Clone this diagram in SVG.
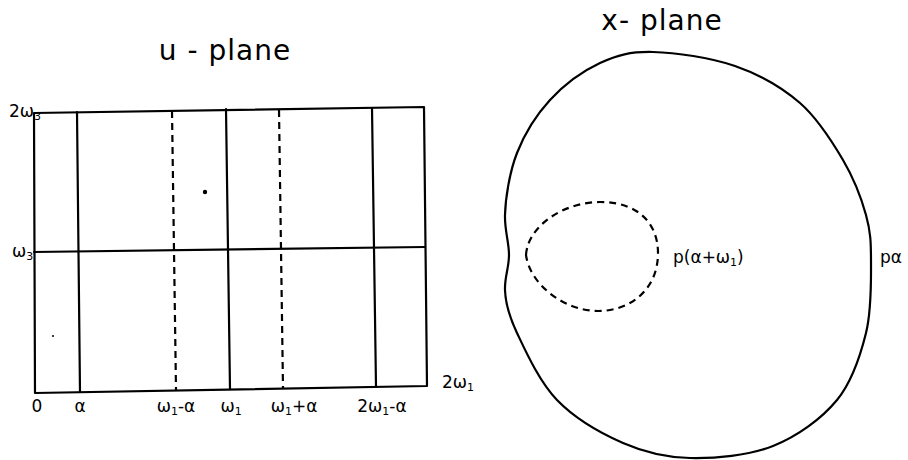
<svg xmlns="http://www.w3.org/2000/svg" width="908" height="460" viewBox="0 0 908 460">
<style>
.ln{fill:none;stroke:#000;stroke-width:2.2;stroke-linecap:round;stroke-linejoin:round}
.ds{fill:none;stroke:#000;stroke-width:2.2;stroke-dasharray:7 5}
.t{font-family:"DejaVu Sans","Liberation Sans",sans-serif;fill:#000}
.ttl{font-size:28px;letter-spacing:1px}
.lb{font-size:17px}
.sub{font-size:11px}
</style>
<rect width="908" height="460" fill="#fff"/>
<g id="u-plane">
<text class="t ttl" x="225" y="60" text-anchor="middle">u - plane</text>
<path class="ln" d="M34,113 L424,107 L427,386 L35,393 Z"/>
<path class="ln" d="M34,252 L425,247"/>
<path class="ln" d="M77,112 L80,392"/>
<path class="ln" d="M226,109 L230,389"/>
<path class="ln" d="M372,108 L376,387"/>
<path class="ds" d="M172,111 L176,390"/>
<path class="ds" d="M279,110 L283,388"/>
<circle cx="205" cy="192" r="2.2" fill="#000"/>
<circle cx="53" cy="336" r="1" fill="#000"/>
<text class="t lb" x="9" y="117" font-size="13">2ω<tspan class="sub" dy="3">3</tspan></text>
<text class="t lb" x="12" y="257">ω<tspan class="sub" dy="3">3</tspan></text>
<text class="t lb" x="37" y="412" text-anchor="middle">0</text>
<text class="t lb" x="80" y="412" text-anchor="middle">α</text>
<text class="t lb" x="176" y="412" text-anchor="middle">ω<tspan class="sub" dy="3">1</tspan><tspan dy="-3">-α</tspan></text>
<text class="t lb" x="231" y="412" text-anchor="middle">ω<tspan class="sub" dy="3">1</tspan></text>
<text class="t lb" x="294" y="412" text-anchor="middle">ω<tspan class="sub" dy="3">1</tspan><tspan dy="-3">+α</tspan></text>
<text class="t lb" x="382" y="412" text-anchor="middle">2ω<tspan class="sub" dy="3">1</tspan><tspan dy="-3">-α</tspan></text>
<text class="t lb" x="442" y="388">2ω<tspan class="sub" dy="3">1</tspan></text>
</g>
<g id="x-plane">
<text class="t ttl" x="662" y="30" text-anchor="middle">x- plane</text>
<path class="ln" d="M653,52 C675.5,52.5 710.5,57.5 735,66 C759.5,74.5 782,87.3 800,103 C818,118.7 832,141.3 843,160 C854,178.7 861.3,198 866,215 C870.7,232 871,242.3 871,262 C871,281.7 871.7,310 866,333 C860.3,356 852.5,381.2 837,400 C821.5,418.8 797.5,436.3 773,446 C748.5,455.7 715,458.5 690,458 C665,457.5 645.2,452.7 623,443 C600.8,433.3 574.7,418.3 557,400 C539.3,381.7 525.7,351.3 517,333 C508.3,314.7 505.5,303 505,290 C504.5,277 509,268 509,255 C509,242 504.5,230 505,215 C505.5,198 509.5,172.2 517,153 C524.5,133.8 536.2,115 550,100 C563.8,85 582.8,71 600,63 C617.2,55 630.5,51.5 653,52 Z"/>
<path class="ds" d="M526,255 C528,225 565,202 600,202 C640,202 658,225 658,253 C658,290 630,311 598,311 C565,311 530,285 526,255 Z"/>
<text class="t lb" x="673" y="263">p(α+ω<tspan class="sub" dy="3">1</tspan><tspan dy="-3">)</tspan></text>
<text class="t lb" x="880" y="263">pα</text>
</g>
</svg>
